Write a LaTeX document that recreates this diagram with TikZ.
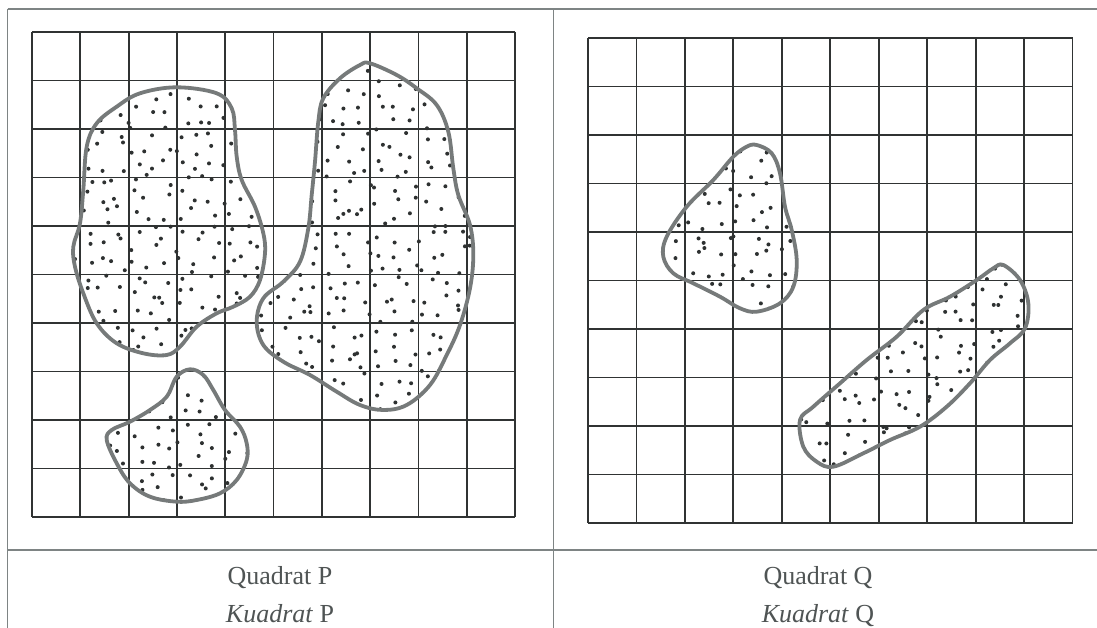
\documentclass[tikz,border=0pt]{standalone}
\usepackage{fontspec}
\setmainfont{Liberation Serif}
\definecolor{tablegray}{HTML}{7E8484}
\definecolor{griddark}{HTML}{303333}
\definecolor{blobgray}{HTML}{767A7A}
\definecolor{dotgray}{HTML}{2E3131}
\definecolor{textgray}{HTML}{4F5454}
\begin{document}
\begin{tikzpicture}[x=1pt,y=-1pt,
  tableline/.style={draw=tablegray, line width=1.7pt},
  gridline/.style={draw=griddark, line width=1.8pt},
  blobline/.style={draw=blobgray, line width=3.8pt, line join=round},
  dotfill/.style={fill=dotgray},
  caption/.style={text=textgray, font=\fontsize{26}{31}\selectfont, anchor=base, inner sep=0pt}]
\fill[white] (0,0) rectangle (1097,628);
\useasboundingbox (0,0) rectangle (1097,628);
% table
\draw[tableline] (7.5,9) -- (1097,9);
\draw[tableline] (7.5,9) -- (7.5,628);
\draw[tableline] (553.5,9) -- (553.5,628);
\draw[tableline] (7.5,550) -- (1097,550);
% left grid
\foreach \i in {0,...,10}{
  \draw[gridline] ({32+\i*48.3},32) -- ({32+\i*48.3},517);
  \draw[gridline] (32,{32+\i*48.5}) -- (515,{32+\i*48.5});
}
% right grid
\foreach \i in {0,...,10}{
  \draw[gridline] ({588+\i*48.45},38) -- ({588+\i*48.45},523);
  \draw[gridline] (588,{38+\i*48.5}) -- (1072.5,{38+\i*48.5});
}
% Blob A
\begin{scope}
\clip plot[smooth cycle, tension=0.6] coordinates {(176.7,87.3) (216.7,93.3) (231.7,108.3) (235,130) (236.7,156.7) (241.7,180) (255,206.7) (263.3,233.3) (265,253.3) (260,280) (250,296.7) (233.3,306.7) (216.7,313.3) (196.7,326.7) (180,346.7) (166.7,355) (143.3,353.3) (116.7,343.3) (96.7,323.3) (83.3,293.3) (75,266.7) (73.3,246.7) (80,223.3) (83.3,190) (86.7,146.7) (96.7,123.3) (116.7,106.7) (140,93.3)};
\pgfmathsetseed{11}
\foreach \gx in {70,86,...,270}{\foreach \gy in {85,101,...,360}{
  \pgfmathsetmacro\dx{\gx+rand*7}\pgfmathsetmacro\dy{\gy+rand*7}
  \fill[dotfill] (\dx,\dy) circle (2.0);}}
\end{scope}
\draw[blobline] plot[smooth cycle, tension=0.6] coordinates {(176.7,87.3) (216.7,93.3) (231.7,108.3) (235,130) (236.7,156.7) (241.7,180) (255,206.7) (263.3,233.3) (265,253.3) (260,280) (250,296.7) (233.3,306.7) (216.7,313.3) (196.7,326.7) (180,346.7) (166.7,355) (143.3,353.3) (116.7,343.3) (96.7,323.3) (83.3,293.3) (75,266.7) (73.3,246.7) (80,223.3) (83.3,190) (86.7,146.7) (96.7,123.3) (116.7,106.7) (140,93.3)};
% Blob B
\begin{scope}
\clip plot[smooth cycle, tension=0.6] coordinates {(370,63.3) (396.7,75) (416.7,88.3) (436.7,105) (448.3,131.7) (453.3,168.3) (458.3,195) (470,225) (473.3,255) (470,288.3) (460,325) (446.7,355) (430,385) (406.7,405) (383.3,410) (360,405) (336.7,391.7) (310,375) (283.3,361.7) (263.3,345) (256.7,321.7) (263.3,298.3) (283.3,281.7) (300,261.7) (308.3,228.3) (311.7,195) (315,161.7) (318.3,121.7) (323.3,98.3) (340,78.3) (360,65)};
\pgfmathsetseed{23}
\foreach \gx in {252,268,...,480}{\foreach \gy in {60,76,...,415}{
  \pgfmathsetmacro\dx{\gx+rand*7}\pgfmathsetmacro\dy{\gy+rand*7}
  \fill[dotfill] (\dx,\dy) circle (2.0);}}
\end{scope}
\draw[blobline] plot[smooth cycle, tension=0.6] coordinates {(370,63.3) (396.7,75) (416.7,88.3) (436.7,105) (448.3,131.7) (453.3,168.3) (458.3,195) (470,225) (473.3,255) (470,288.3) (460,325) (446.7,355) (430,385) (406.7,405) (383.3,410) (360,405) (336.7,391.7) (310,375) (283.3,361.7) (263.3,345) (256.7,321.7) (263.3,298.3) (283.3,281.7) (300,261.7) (308.3,228.3) (311.7,195) (315,161.7) (318.3,121.7) (323.3,98.3) (340,78.3) (360,65)};
% Blob C
\begin{scope}
\clip plot[smooth cycle, tension=0.6] coordinates {(190,369.3) (203.3,375) (213.3,390) (225,410) (240,426.7) (246.7,443.3) (246.7,460) (236.7,480) (220,493.3) (196.7,500) (176.7,501.7) (150,496.7) (130,483.3) (116.7,463.3) (106.7,440) (111.7,430) (130,421.7) (150,410) (166.7,396.7) (176.7,376.7)};
\pgfmathsetseed{37}
\foreach \gx in {104,120,...,250}{\foreach \gy in {366,382,...,505}{
  \pgfmathsetmacro\dx{\gx+rand*7}\pgfmathsetmacro\dy{\gy+rand*7}
  \fill[dotfill] (\dx,\dy) circle (2.0);}}
\end{scope}
\draw[blobline] plot[smooth cycle, tension=0.6] coordinates {(190,369.3) (203.3,375) (213.3,390) (225,410) (240,426.7) (246.7,443.3) (246.7,460) (236.7,480) (220,493.3) (196.7,500) (176.7,501.7) (150,496.7) (130,483.3) (116.7,463.3) (106.7,440) (111.7,430) (130,421.7) (150,410) (166.7,396.7) (176.7,376.7)};
% Blob D
\begin{scope}
\clip plot[smooth cycle, tension=0.6] coordinates {(756.7,145) (771.7,153.3) (780,173.3) (785,206.7) (791.7,230) (796.7,260) (793.3,286.7) (780,303.3) (756.7,311.7) (740,308.3) (720,296.7) (693.3,283.3) (673.3,273.3) (663.3,256.7) (666.7,236.7) (686.7,206.7) (713.3,180) (733.3,156.7) (746.7,146.7)};
\pgfmathsetseed{41}
\foreach \gx in {660,676,...,800}{\foreach \gy in {142,158,...,315}{
  \pgfmathsetmacro\dx{\gx+rand*7}\pgfmathsetmacro\dy{\gy+rand*7}
  \fill[dotfill] (\dx,\dy) circle (2.0);}}
\end{scope}
\draw[blobline] plot[smooth cycle, tension=0.6] coordinates {(756.7,145) (771.7,153.3) (780,173.3) (785,206.7) (791.7,230) (796.7,260) (793.3,286.7) (780,303.3) (756.7,311.7) (740,308.3) (720,296.7) (693.3,283.3) (673.3,273.3) (663.3,256.7) (666.7,236.7) (686.7,206.7) (713.3,180) (733.3,156.7) (746.7,146.7)};
% Blob E
\begin{scope}
\clip plot[smooth cycle, tension=0.6] coordinates {(1003.3,265) (1020,280) (1028.3,303.3) (1025,328.3) (1010,343.3) (990,360) (970,383.3) (946.7,406.7) (920,426.7) (890,440) (863.3,453.3) (833.3,466.7) (816.7,461.7) (803.3,446.7) (800,420) (813.3,406.7) (840,383.3) (866.7,360) (896.7,336.7) (923.3,310) (950,296.7) (976.7,280) (993.3,268.3)};
\pgfmathsetseed{53}
\foreach \gx in {797,813,...,1032}{\foreach \gy in {262,278,...,470}{
  \pgfmathsetmacro\dx{\gx+rand*7}\pgfmathsetmacro\dy{\gy+rand*7}
  \fill[dotfill] (\dx,\dy) circle (2.0);}}
\end{scope}
\draw[blobline] plot[smooth cycle, tension=0.6] coordinates {(1003.3,265) (1020,280) (1028.3,303.3) (1025,328.3) (1010,343.3) (990,360) (970,383.3) (946.7,406.7) (920,426.7) (890,440) (863.3,453.3) (833.3,466.7) (816.7,461.7) (803.3,446.7) (800,420) (813.3,406.7) (840,383.3) (866.7,360) (896.7,336.7) (923.3,310) (950,296.7) (976.7,280) (993.3,268.3)};
% captions
\node[caption] (qp) at (280,584) {Quadrat P};
\node[caption] (kp) at (280,622) {\textit{Kuadrat} P};
\node[caption] (qq) at (818,584) {Quadrat Q};
\node[caption] (kq) at (818,622) {\textit{Kuadrat} Q};
\end{tikzpicture}
\end{document}
